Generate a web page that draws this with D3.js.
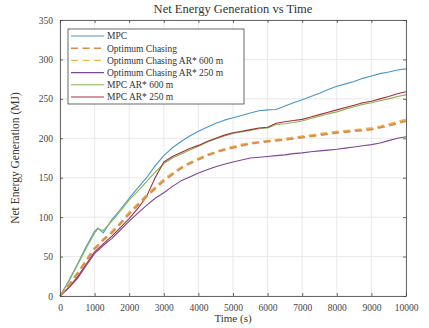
<!DOCTYPE html>
<html>
<head>
<meta charset="utf-8">
<script src="https://cdn.jsdelivr.net/npm/d3@7"></script>
<style>
  html, body { margin: 0; padding: 0; background: #ffffff; }
  svg { display: block; font-family: "Liberation Serif", "DejaVu Serif", serif; }
</style>
</head>
<body>
<svg id="chart" width="429" height="328"></svg>
<script>
// ---------------- data ----------------
const times = [0,250,500,750,1000,1100,1250,1500,1750,2000,2250,2500,2750,3000,3250,3500,3750,4000,4250,4500,4750,5000,5250,5500,5750,6000,6250,6500,6750,7000,7250,7500,7750,8000,8250,8500,8750,9000,9250,9500,9750,10000];

const mpc = [0,19,40,62,82,86,80,97,110,124,137,150,165,178,188,196,203,209,214,219,223,226,229,232,235,236,236.5,241,245,249,253,257,262,266,269,272,276,279,282,284,286.5,288];
const optimumChasing = [0,13,28,44,60,64,71,80,92,104,115,126,136,146,154,162,168,173,178,182,185.5,188,190.5,193,194.5,196,197,198,199.5,201,202.5,204,205.5,207,208,209,210,211,213.5,216,219,222];
const ocAR600 = [0,14,29,45,61,65,72,82,93,106,117,128,138,148,156,163,169,174.5,179,183,186.5,189.5,192,194,195.5,197,198,199.5,201,202.5,204,205.5,207,208.5,209.5,210.5,211.5,213,215,218,221,224];
const ocAR250 = [0,10,22,38,54,58,64,73,84,95,105,115,124,131,139,146,151,156,160,164,167,170,172.5,175,176,177,178,179,180.5,181.5,183,184,185,186,187.5,189,190.5,192,194,197,200,202];
const mpcAR600 = [0,18,39,60,80,85,83,95,108,122,133,145,157,168,175,180,185,190,195,199,203,206,208,210,212,213,217.5,218.5,220,222,225,228,231,233.5,237,240,243,245,247.5,250,253,255];
const mpcAR250 = [0,11,24,40,56,60,66,76,87,98,111,126,150,170,177,182,187,191,196,200,204,207,209,211,213,214,219,221,222.5,224,227,230,233,236,239,242,245,247,250,253,256.5,259];

const seriesNames = ["MPC","Optimum Chasing","Optimum Chasing AR* 600 m","Optimum Chasing AR* 250 m","MPC AR* 600 m","MPC AR* 250 m"];
const seriesValues = [mpc, optimumChasing, ocAR600, ocAR250, mpcAR600, mpcAR250];

const xTicks = [0,1000,2000,3000,4000,5000,6000,7000,8000,9000,10000];
const yTicks = [0,50,100,150,200,250,300,350];

const titleText = "Net Energy Generation vs Time";
const xLabel = "Time (s)";
const yLabel = "Net Energy Generation (MJ)";

// ---------------- styles ----------------
const colors = ["#4a95c9", "#dc8a52", "#e9bb4a", "#7d4596", "#86b553", "#a3303b"];
const dashes = [null, "7,4.5", "7,4.5", null, null, null];
const widths = [1.1, 2.0, 2.0, 1.1, 1.1, 1.1];

// ---------------- layout ----------------
const svg = d3.select("#chart");
const L = 60, R = 406, T = 20, B = 296;

const x = d3.scaleLinear().domain([0, 10000]).range([L, R]);
const y = d3.scaleLinear().domain([0, 350]).range([B, T]);

// grid
const grid = svg.append("g");
grid.selectAll(".gx").data(xTicks).join("line")
  .attr("x1", d => x(d)).attr("x2", d => x(d)).attr("y1", T).attr("y2", B)
  .attr("stroke", "#e3e3e3").attr("stroke-width", 0.8);
grid.selectAll(".gy").data(yTicks).join("line")
  .attr("x1", L).attr("x2", R).attr("y1", d => y(d)).attr("y2", d => y(d))
  .attr("stroke", "#e3e3e3").attr("stroke-width", 0.8);

// lines
const line = d3.line().x((d, i) => x(times[i])).y(d => y(d));
const order = [0, 4, 5, 3, 2, 1];
order.forEach(k => {
  svg.append("path")
    .datum(seriesValues[k])
    .attr("d", line)
    .attr("fill", "none")
    .attr("stroke", colors[k])
    .attr("stroke-width", widths[k])
    .attr("stroke-dasharray", dashes[k])
    .attr("stroke-linejoin", "round");
});

// axes
const axisColor = "#444";
function styleAxis(g) {
  g.select(".domain").attr("stroke", axisColor).attr("stroke-width", 0.8);
  g.selectAll(".tick line").attr("stroke", axisColor).attr("stroke-width", 0.8);
  g.selectAll(".tick text").attr("fill", "#444").style("font-size", "9.5px")
    .style("font-family", '"Liberation Serif", "DejaVu Serif", serif');
}
svg.append("g").attr("transform", `translate(0,${B})`)
  .call(d3.axisBottom(x).tickValues(xTicks).tickFormat(d3.format("d")).tickSize(-3).tickPadding(8).tickSizeOuter(0))
  .call(styleAxis);
svg.append("g").attr("transform", `translate(0,${T})`)
  .call(d3.axisTop(x).tickValues(xTicks).tickFormat("").tickSize(-3).tickSizeOuter(0))
  .call(styleAxis);
svg.append("g").attr("transform", `translate(${L},0)`)
  .call(d3.axisLeft(y).tickValues(yTicks).tickFormat(d3.format("d")).tickSize(-3).tickPadding(7).tickSizeOuter(0))
  .call(styleAxis);
svg.append("g").attr("transform", `translate(${R},0)`)
  .call(d3.axisRight(y).tickValues(yTicks).tickFormat("").tickSize(-3).tickSizeOuter(0))
  .call(styleAxis);

// title & labels
svg.append("text").attr("x", (L + R) / 2).attr("y", 13).attr("text-anchor", "middle")
  .style("font-size", "12.5px").attr("fill", "#333").text(titleText);
svg.append("text").attr("x", (L + R) / 2).attr("y", 322).attr("text-anchor", "middle")
  .style("font-size", "11px").attr("fill", "#333").text(xLabel);
svg.append("text").attr("transform", `translate(19,${(T + B) / 2}) rotate(-90)`).attr("text-anchor", "middle")
  .style("font-size", "11.5px").attr("fill", "#333").text(yLabel);

// legend
const lg = svg.append("g");
const lx = 68, ly = 29, lw = 176, lh = 75;
lg.append("rect").attr("x", lx).attr("y", ly).attr("width", lw).attr("height", lh)
  .attr("fill", "#fff").attr("stroke", "#444").attr("stroke-width", 0.8);
seriesNames.forEach((name, k) => {
  const yy = ly + 7 + k * 12.2;
  lg.append("line").attr("x1", lx + 3).attr("x2", lx + 36).attr("y1", yy).attr("y2", yy)
    .attr("stroke", colors[k]).attr("stroke-width", widths[k] > 1.5 ? 1.4 : 1.1)
    .attr("stroke-dasharray", dashes[k]);
  lg.append("text").attr("x", lx + 39).attr("y", yy + 3.3)
    .style("font-size", "9.5px").attr("fill", "#333").text(name);
});
</script>
</body>
</html>
